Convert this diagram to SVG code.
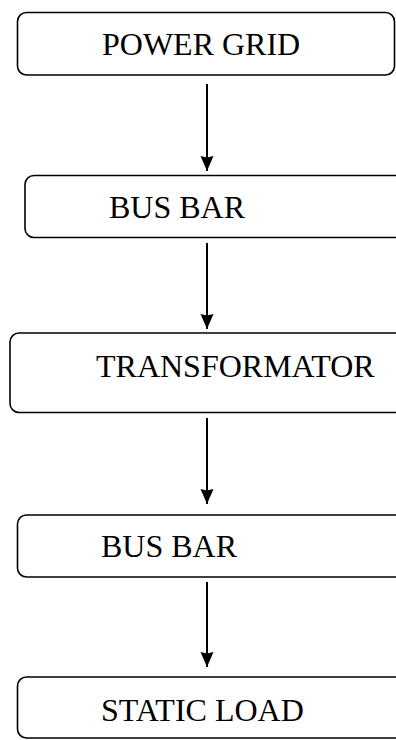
<svg xmlns="http://www.w3.org/2000/svg" width="396" height="740" viewBox="0 0 396 740">
  <defs>
    <marker id="arrow" markerWidth="16" markerHeight="14" refX="15" refY="7" orient="auto" markerUnits="userSpaceOnUse">
      <path d="M0,0.5 L15,7 L0,13.5 L1.5,7 Z" fill="#000"/>
    </marker>
    <style>
      .box { fill: #fff; stroke: #000; stroke-width: 1.6; }
      .lbl { font-family: "Liberation Serif", "Times New Roman", serif; font-size: 32px; fill: #000; }
      .conn { stroke: #000; stroke-width: 2; fill: none; }
    </style>
  </defs>
  <rect width="396" height="740" fill="#fff"/>
  <g id="power-grid">
    <rect class="box" x="17.5" y="12.5" width="377" height="62.5" rx="9" ry="9"/>
    <text class="lbl" x="102" y="55">POWER GRID</text>
  </g>
  <g id="bus-bar-1">
    <rect class="box" x="25" y="175.5" width="380" height="62" rx="9" ry="9"/>
    <text class="lbl" x="109" y="218">BUS BAR</text>
  </g>
  <g id="transformator">
    <rect class="box" x="10" y="333" width="395" height="79.5" rx="9" ry="9"/>
    <text class="lbl" x="96" y="377">TRANSFORMATOR</text>
  </g>
  <g id="bus-bar-2">
    <rect class="box" x="17.5" y="515" width="390" height="62" rx="9" ry="9"/>
    <text class="lbl" x="101" y="557">BUS BAR</text>
  </g>
  <g id="static-load">
    <rect class="box" x="17.5" y="677" width="390" height="61" rx="9" ry="9"/>
    <text class="lbl" x="101" y="721">STATIC LOAD</text>
  </g>
  <g id="connectors">
    <line class="conn" x1="207" y1="84" x2="207" y2="171" marker-end="url(#arrow)"/>
    <line class="conn" x1="207" y1="243" x2="207" y2="329" marker-end="url(#arrow)"/>
    <line class="conn" x1="207" y1="418" x2="207" y2="504" marker-end="url(#arrow)"/>
    <line class="conn" x1="207" y1="582" x2="207" y2="667" marker-end="url(#arrow)"/>
  </g>
</svg>
